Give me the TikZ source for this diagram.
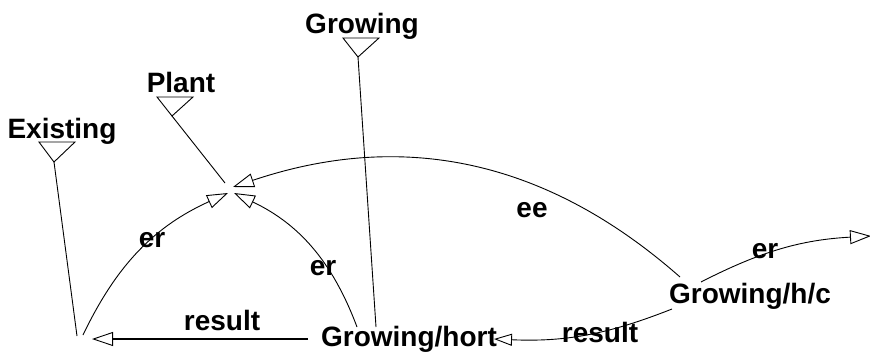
\documentclass[tikz,border=0pt]{standalone}
\usepackage{fontspec}
\setmainfont{Liberation Sans}
\usetikzlibrary{arrows.meta}
\begin{document}
\begin{tikzpicture}[x=1pt,y=1pt,
  lbl/.style={font=\bfseries\fontsize{28}{30}\selectfont, inner sep=0pt, anchor=base},
  thin line/.style={line width=0.9pt, black},
  oarrow/.style={thin line, -{Triangle[open,length=21pt,width=14pt,line width=0.9pt]}},
  marker/.style={line width=0.9pt}]
\useasboundingbox (0,0) rectangle (870,-356);
% text nodes
\node[lbl] (ex) at (62,-138) {Existing};
\node[lbl] (pl) at (181,-92) {Plant};
\node[lbl] (gr) at (362,-33) {Growing};
\node[lbl] (gh) at (409,-346) {Growing/hort};
\node[lbl] (ghc) at (750,-303) {Growing/h/c};
% markers (inverted triangles)
\coordinate (exApex) at (54,-162);
\coordinate (plApex) at (172,-116);
\coordinate (grApex) at (358,-57);
\draw[marker] (39,-142) -- (75,-142) -- (exApex) -- cycle;
\draw[marker] (157,-97) -- (193,-97) -- (plApex) -- cycle;
\draw[marker] (343,-38) -- (379,-38) -- (grApex) -- cycle;
% endpoints
\coordinate (hubE) at (233,-187);
\coordinate (hubL) at (228,-193);
\coordinate (hubR) at (234,-193);
\coordinate (hubP) at (225,-183);
\coordinate (exEnd) at (77,-336);
\coordinate (exArc) at (83,-335);
\coordinate (resTip) at (92,-339);
\coordinate (ghRes) at (308,-339);
\coordinate (ghTop) at (357,-327);
\coordinate (grEnd) at (376,-327);
\coordinate (ghEnd) at (494,-339);
\coordinate (ghcEE) at (680,-277);
\coordinate (ghcER) at (701,-282);
\coordinate (ghcRes) at (672,-309);
\coordinate (rightTip) at (871,-236);
% lines from markers
\draw[thin line] (exApex) -- (exEnd);
\draw[thin line] (plApex) -- (hubP);
\draw[thin line] (grApex) -- (grEnd);
% arrows
\draw[oarrow] (exArc) to[bend left=20] (hubL);
\draw[oarrow] (ghTop) to[bend right=22] (hubR);
\draw[oarrow] (ghcEE) to[bend right=30] (hubE);
\draw[oarrow, line width=1.6pt] (ghRes) -- (resTip);
\draw[thin line, -{Triangle[open,length=18pt,width=12pt,line width=0.9pt]}] (ghcRes) to[bend left=12] (ghEnd);
\draw[oarrow] (ghcER) to[bend left=12] (rightTip);
% labels
\node[lbl] (l1) at (152,-247) {er};
\node[lbl] (l2) at (323,-275) {er};
\node[lbl] (l3) at (222,-330) {result};
\node[lbl] (l4) at (532,-217) {ee};
\node[lbl] (l5) at (765,-258) {er};
\node[lbl] (l6) at (600,-342) {result};
\end{tikzpicture}
\end{document}
